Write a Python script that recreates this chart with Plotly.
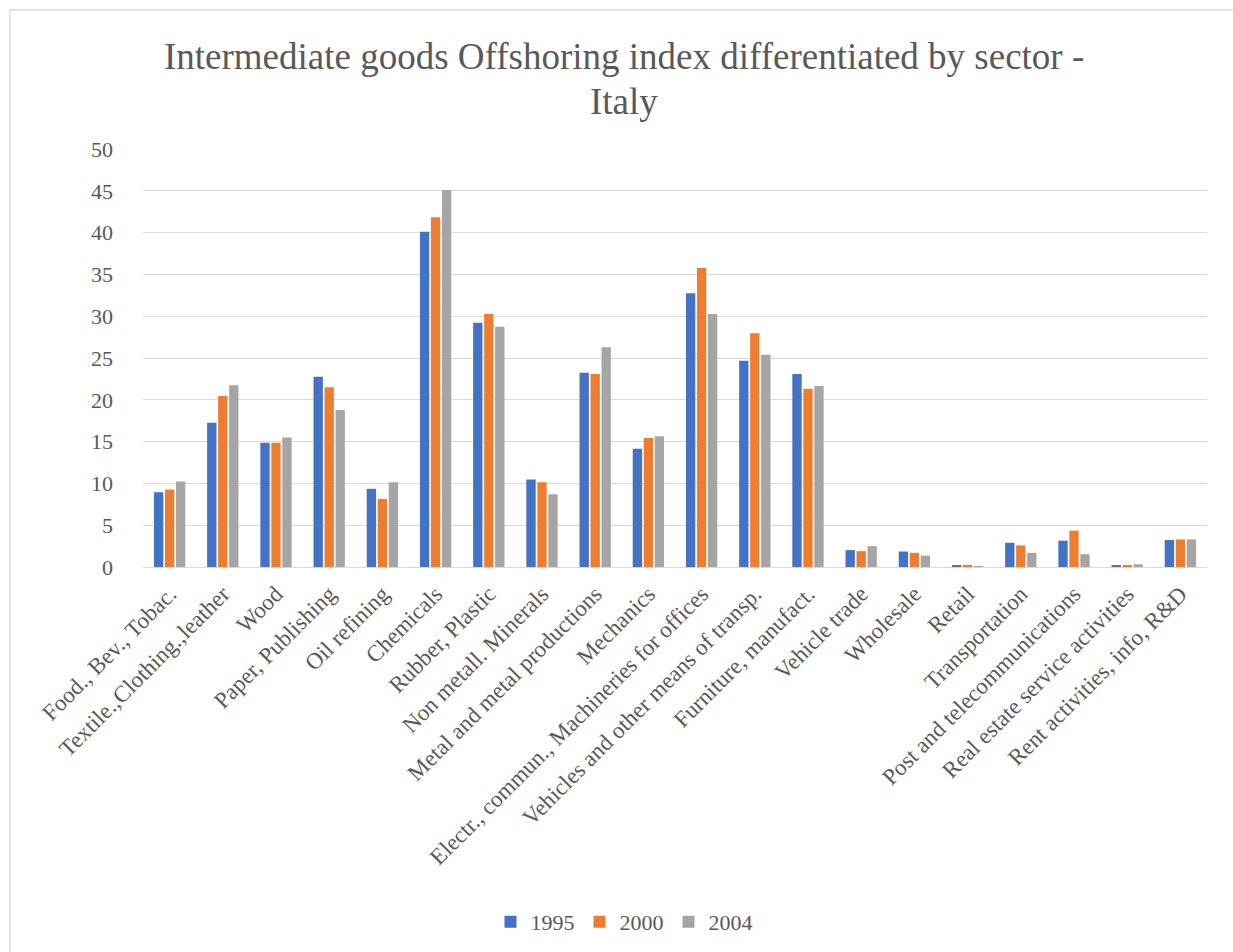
import plotly.graph_objects as go

categories = [
    "Food., Bev., Tobac.", "Textile.,Clothing.,leather", "Wood", "Paper, Publishing",
    "Oil refining", "Chemicals", "Rubber, Plastic", "Non metall. Minerals",
    "Metal and metal productions", "Mechanics", "Electr., commun., Machineries for offices",
    "Vehicles and other means of transp.", "Furniture, manufact.", "Vehicle trade",
    "Wholesale", "Retail", "Transportation", "Post and telecommunications",
    "Real estate service activities", "Rent activities, info, R&D",
]
v1995 = [8.95, 17.25, 14.86, 22.76, 9.35, 40.1, 29.23, 10.46, 23.24, 14.14, 32.75, 24.68, 23.08, 2.02, 1.85, 0.2, 2.9, 3.15, 0.16, 3.23]
v2000 = [9.27, 20.45, 14.86, 21.49, 8.15, 41.85, 30.27, 10.14, 23.08, 15.42, 35.78, 27.96, 21.33, 1.9, 1.69, 0.2, 2.58, 4.35, 0.2, 3.3]
v2004 = [10.22, 21.73, 15.5, 18.77, 10.14, 45.1, 28.75, 8.7, 26.28, 15.65, 30.27, 25.4, 21.65, 2.5, 1.37, 0.12, 1.69, 1.53, 0.32, 3.3]
series_names = ["1995", "2000", "2004"]
colors = ["#4472C4", "#ED7D31", "#A5A5A5"]

FONT = "'Liberation Serif', 'Times New Roman', Times, 'DejaVu Serif', serif"
GREY = "#595959"

fig = go.Figure()
for name, vals, col in zip(series_names, [v1995, v2000, v2004], colors):
    fig.add_trace(go.Bar(x=categories, y=vals, name=name, marker=dict(color=col, line=dict(width=0))))

L, R, T, B = 143, 26, 149, 385
W, H = 1233, 952
pw = W - L - R
ph = H - T - B

def px_x(x):
    return (x - L) / pw

def px_y(y):
    return (H - B - y) / ph

fig.update_layout(
    width=W, height=H,
    margin=dict(l=L, r=R, t=T, b=B, autoexpand=False),
    paper_bgcolor="white", plot_bgcolor="white",
    font=dict(family=FONT, color=GREY, size=21),
    barmode="group", bargap=0.38, bargroupgap=0.15,
    showlegend=True,
    legend=dict(orientation="h", x=px_x(624), xanchor="center", y=px_y(922), yanchor="middle",
                font=dict(size=22, family=FONT, color=GREY), itemwidth=30, traceorder="normal"),
    xaxis=dict(tickangle=-45, showgrid=False, showline=False, ticks="", ticklabelstandoff=8,
               tickfont=dict(size=23, family=FONT, color=GREY)),
    yaxis=dict(range=[0, 50], dtick=5, showgrid=True, gridcolor="#D9D9D9", gridwidth=1.3,
               zeroline=True, zerolinecolor="#D9D9D9", zerolinewidth=1.3, showline=False,
               ticks="", ticklabelstandoff=29, tickfont=dict(size=22, family=FONT, color=GREY)),
    annotations=[
        dict(text="Intermediate goods Offshoring index differentiated by sector -", xref="paper", yref="paper",
             x=px_x(624), y=px_y(57), xanchor="center", yanchor="middle", showarrow=False,
             font=dict(size=37, family=FONT, color=GREY)),
        dict(text="Italy", xref="paper", yref="paper",
             x=px_x(624), y=px_y(102), xanchor="center", yanchor="middle", showarrow=False,
             font=dict(size=37, family=FONT, color=GREY)),
    ],
    shapes=[dict(type="rect", xref="paper", yref="paper",
                 x0=px_x(10), x1=px_x(1245), y0=px_y(10), y1=px_y(965),
                 line=dict(color="#D9D9D9", width=1.3), fillcolor="rgba(0,0,0,0)", layer="below")],
)

fig.write_html("out.html")
